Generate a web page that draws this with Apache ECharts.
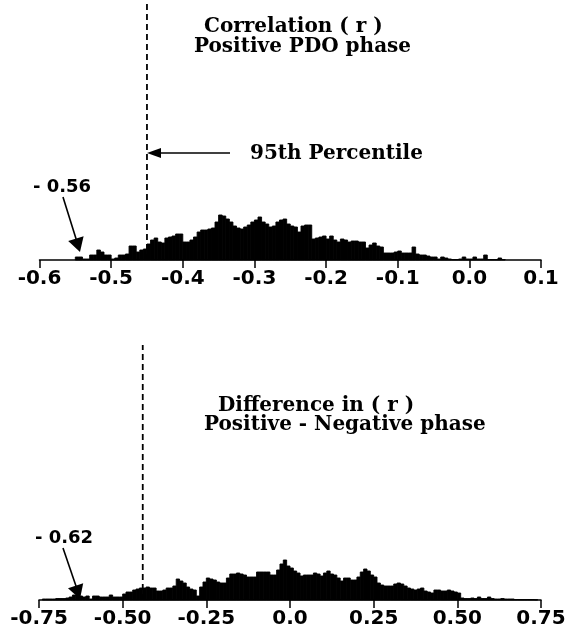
<!DOCTYPE html>
<html>
<head>
<meta charset="utf-8">
<script src="https://cdn.jsdelivr.net/npm/echarts@6/dist/echarts.min.js"></script>
<style>
html,body{margin:0;padding:0;background:#fff;}
#chart{width:573px;height:638px;}
</style>
</head>
<body>
<div id="chart"></div>
<script>
// ---- Top panel: Correlation (r), Positive PDO phase ----
var topBinStart = -0.555;
var topBinWidth = 0.005;
var topCounts = [
  0, 3, 3, 1, 1, 5, 5, 10, 8, 5,
  5, 1, 2, 5, 5, 6, 14, 14, 8, 10,
  11, 16, 20, 22, 18, 17, 22, 23, 24, 26,
  26, 18, 18, 20, 23, 28, 30, 30, 31, 32,
  38, 45, 44, 41, 38, 34, 32, 31, 33, 35,
  38, 40, 43, 38, 36, 33, 34, 38, 40, 41,
  36, 34, 33, 28, 34, 35, 35, 21, 22, 23,
  24, 21, 24, 20, 18, 21, 20, 18, 19, 19,
  18, 18, 12, 15, 17, 14, 13, 7, 7, 7,
  8, 9, 7, 7, 7, 13, 6, 5, 5, 4,
  3, 3, 1, 3, 2, 1, 0.5, 0.5, 1, 3,
  1, 1, 3, 1, 1, 5, 0.5, 0.5, 0.5, 2,
  0.5
];
var topTicks = [-0.6, -0.5, -0.4, -0.3, -0.2, -0.1, 0.0, 0.1];
var topPercentile = -0.45;

// ---- Bottom panel: Difference in (r), Positive - Negative phase ----
var botBinStart = -0.75;
var botBinWidth = 0.01;
var botCounts = [
  0, 1, 1, 1, 1, 1.5, 1.5, 1.5, 2, 3,
  5, 5, 4, 3, 4, 1, 4, 4, 3, 3,
  3, 5, 3, 3, 3, 6, 8, 8, 10, 11,
  12, 12, 13, 12, 12, 9, 9, 10, 12, 12,
  14, 21, 19, 17, 13, 11, 10, 4, 13, 18,
  22, 21, 20, 18, 17, 17, 22, 26, 26, 27,
  26, 25, 23, 23, 23, 28, 28, 28, 28, 25,
  25, 30, 36, 40, 34, 32, 29, 27, 24, 25,
  25, 25, 27, 26, 24, 27, 29, 26, 25, 22,
  19, 22, 22, 20, 20, 23, 28, 31, 29, 25,
  23, 17, 15, 14, 14, 14, 16, 17, 16, 14,
  12, 11, 10, 11, 12, 9, 8, 7, 10, 10,
  9, 9, 10, 9, 8, 7, 2, 1.5, 1.5, 2,
  1.5, 3, 1.5, 1.5, 3, 1.5, 1, 1, 1.5, 1,
  1, 1, 0.5, 0.5, 0.5, 0.5, 0.5, 0.5, 0.3, 0
];
var botTicks = [-0.75, -0.5, -0.25, 0.0, 0.25, 0.5, 0.75];
var botPercentile = -0.44;

function bins(start, width, counts) {
  return counts.map(function (c, i) {
    var s = +(start + i * width).toFixed(4);
    return [s, +(s + width).toFixed(4), c];
  });
}

function renderBar(params, api) {
  if (!(api.value(2) > 0)) return null;
  var p0 = api.coord([api.value(0), 0]);
  var p1 = api.coord([api.value(1), api.value(2)]);
  return {
    type: 'rect',
    shape: { x: p0[0], y: p1[1], width: p1[0] - p0[0], height: p0[1] - p1[1] },
    style: { fill: '#000', stroke: '#000', lineWidth: 0.9 }
  };
}

var axisCommon = {
  type: 'value',
  splitLine: { show: false },
  axisLine: { show: true, lineStyle: { color: '#000', width: 1.5 } },
  axisTick: { show: true, inside: false, length: 8, lineStyle: { color: '#000', width: 1.5 } },
  axisLabel: {
    color: '#000', fontFamily: 'DejaVu Sans', fontWeight: 'bold', fontSize: 20, margin: 9,
    showMinLabel: true, showMaxLabel: true
  }
};

var chart = echarts.init(document.getElementById('chart'), null, { renderer: 'canvas' });

var serif = 'DejaVu Serif';
var sans = 'DejaVu Sans';

chart.setOption({
  animation: false,
  backgroundColor: '#fff',
  grid: [
    { left: 39.5, top: 0, width: 501.5, height: 260 },
    { left: 39, top: 345, width: 502, height: 255 }
  ],
  xAxis: [
    Object.assign({}, axisCommon, {
      gridIndex: 0, min: topTicks[0], max: topTicks[topTicks.length - 1], interval: 0.1,
      axisLabel: Object.assign({}, axisCommon.axisLabel, {
        formatter: function (v) { return (+v).toFixed(1); }
      })
    }),
    Object.assign({}, axisCommon, {
      gridIndex: 1, min: botTicks[0], max: botTicks[botTicks.length - 1], interval: 0.25,
      axisLabel: Object.assign({}, axisCommon.axisLabel, {
        formatter: function (v) { return Math.abs(v) < 1e-9 ? '0.0' : (+v).toFixed(2); }
      })
    })
  ],
  yAxis: [
    { type: 'value', gridIndex: 0, min: 0, max: 260, show: false },
    { type: 'value', gridIndex: 1, min: 0, max: 255, show: false }
  ],
  series: [
    {
      type: 'custom', xAxisIndex: 0, yAxisIndex: 0,
      renderItem: renderBar, data: bins(topBinStart, topBinWidth, topCounts)
    },
    {
      type: 'custom', xAxisIndex: 1, yAxisIndex: 1,
      renderItem: renderBar, data: bins(botBinStart, botBinWidth, botCounts)
    },
    {
      type: 'line', xAxisIndex: 0, yAxisIndex: 0, symbol: 'none',
      lineStyle: { color: '#000', width: 1.8, type: [6, 4] },
      data: [[topPercentile, 0], [topPercentile, 260]]
    },
    {
      type: 'line', xAxisIndex: 1, yAxisIndex: 1, symbol: 'none',
      lineStyle: { color: '#000', width: 1.8, type: [6, 4] },
      data: [[botPercentile, 0], [botPercentile, 255]]
    }
  ],
  graphic: [
    { type: 'text', left: 204, top: 17, style: { text: 'Correlation ( r )', font: 'bold 20px "' + serif + '"', fill: '#000' } },
    { type: 'text', left: 194, top: 37, style: { text: 'Positive PDO phase', font: 'bold 20px "' + serif + '"', fill: '#000' } },
    { type: 'text', left: 250, top: 144, style: { text: '95th Percentile', font: 'bold 20px "' + serif + '"', fill: '#000' } },
    { type: 'line', shape: { x1: 230, y1: 153, x2: 156, y2: 153 }, style: { stroke: '#000', lineWidth: 1.6 } },
    { type: 'polygon', shape: { points: [[147, 153], [161, 148], [161, 158]] }, style: { fill: '#000' } },

    { type: 'text', left: 33, top: 178, style: { text: '- 0.56', font: 'bold 18px "' + sans + '"', fill: '#000' } },
    { type: 'line', shape: { x1: 63, y1: 197, x2: 77, y2: 242 }, style: { stroke: '#000', lineWidth: 1.6 } },
    { type: 'polygon', shape: { points: [[80, 252], [83.6, 236.3], [68.2, 240.9]] }, style: { fill: '#000' } },

    { type: 'text', left: 218, top: 396, style: { text: 'Difference in ( r )', font: 'bold 20px "' + serif + '"', fill: '#000' } },
    { type: 'text', left: 204, top: 415, style: { text: 'Positive - Negative phase', font: 'bold 20px "' + serif + '"', fill: '#000' } },

    { type: 'text', left: 35, top: 529, style: { text: '- 0.62', font: 'bold 18px "' + sans + '"', fill: '#000' } },
    { type: 'line', shape: { x1: 63, y1: 548, x2: 77, y2: 589 }, style: { stroke: '#000', lineWidth: 1.6 } },
    { type: 'polygon', shape: { points: [[80, 599], [83.2, 583.2], [68, 588.2]] }, style: { fill: '#000' } }
  ]
});
</script>
</body>
</html>
